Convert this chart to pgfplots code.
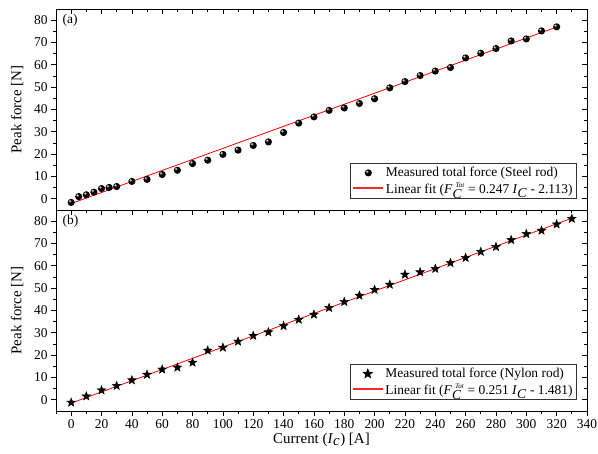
\documentclass[border=0pt]{standalone}
\usepackage{fontspec}
\setmainfont{Liberation Serif}
\usepackage{pgfplots}
\pgfplotsset{compat=1.18}
\pgfdeclareplotmark{fstar}{%
  \pgfpathmoveto{\pgfpointpolar{90}{\pgfplotmarksize}}%
  \pgfpathlineto{\pgfpointpolar{126}{0.42\pgfplotmarksize}}%
  \pgfpathlineto{\pgfpointpolar{162}{\pgfplotmarksize}}%
  \pgfpathlineto{\pgfpointpolar{198}{0.42\pgfplotmarksize}}%
  \pgfpathlineto{\pgfpointpolar{234}{\pgfplotmarksize}}%
  \pgfpathlineto{\pgfpointpolar{270}{0.42\pgfplotmarksize}}%
  \pgfpathlineto{\pgfpointpolar{306}{\pgfplotmarksize}}%
  \pgfpathlineto{\pgfpointpolar{342}{0.42\pgfplotmarksize}}%
  \pgfpathlineto{\pgfpointpolar{18}{\pgfplotmarksize}}%
  \pgfpathlineto{\pgfpointpolar{54}{0.42\pgfplotmarksize}}%
  \pgfpathclose
  \pgfusepathqfillstroke
}
\pgfdeclareplotmark{sball}{%
  \pgfpathcircle{\pgfpointorigin}{\pgfplotmarksize}%
  \pgfusepathqfill
  \begin{pgfscope}
  \pgfsetfillcolor{black!55}%
  \pgfpathcircle{\pgfpoint{-0.3\pgfplotmarksize}{0.3\pgfplotmarksize}}{0.42\pgfplotmarksize}%
  \pgfusepathqfill
  \pgfsetfillcolor{black!12}%
  \pgfpathcircle{\pgfpoint{-0.35\pgfplotmarksize}{0.36\pgfplotmarksize}}{0.2\pgfplotmarksize}%
  \pgfusepathqfill
  \end{pgfscope}
}
\pgfplotsset{
  frame/.style={
    scale only axis, width=531bp, height=201bp,
    xmin=-10, xmax=340, ymin=-5, ymax=85,
    xtick distance=20, ytick={0,10,...,80},
    minor x tick num=1, minor y tick num=1,
    major tick length=5bp, minor tick length=3bp,
    every tick/.style={black, line width=0.7bp},
    axis line style={black, line width=0.9bp},
    tick label style={font=\fontsize{13.5}{15}\selectfont},
    /pgf/number format/assume math mode=true,
  },
  outer/.style={frame, tick align=outside, xtick pos=bottom, ytick pos=left,
    ylabel={Peak force [N]},
    every axis y label/.style={at={(axis description cs:0,0.5)}, xshift=-39bp,
      rotate=90, anchor=center, font=\fontsize{15}{17}\selectfont},
    every axis x label/.style={at={(axis description cs:0.5,0)}, yshift=-29bp,
      anchor=center, font=\fontsize{15}{17}\selectfont}},
  inner/.style={frame, tick align=inside, xtick pos=top, ytick pos=right,
    xticklabels={}, yticklabels={}, axis line style={draw=none}},
  leg/.style={legend style={at={(1,0)}, anchor=south east, xshift=-10bp, yshift=11bp,
    draw=black!80, line width=0.8bp, fill=white, font=\fontsize{13.5}{16}\selectfont,
    inner sep=2bp, row sep=1bp},
    legend cell align=left},
  markleg/.style={legend image code/.code={\draw[##1] plot coordinates {(15bp,0bp)};}},
  lineleg/.style={legend image code/.code={\draw[red!85!white, line width=1.3bp] (0bp,1bp) -- (30bp,1bp);}},
}
\begin{document}
\begin{tikzpicture}
\path[use as bounding box] (-56bp,-43bp) rectangle (542bp,411bp);
% ---------- (a) steel rod ----------
\begin{axis}[outer, leg, at={(0,201bp)}, xticklabels={}]
\addplot[only marks, black, fill=black, mark=sball, mark size=3.6bp, markleg] coordinates {
(0,-1.6) (5,1.0) (10,1.8) (15,3.0) (20,4.6) (25,5.1) (30,5.5) (40,7.8) (50,8.7)
(60,10.9) (70,12.8) (80,15.8) (90,17.3) (100,19.9) (110,21.8) (120,23.9) (130,25.5)
(140,29.7) (150,33.9) (160,36.7) (170,39.6) (180,40.7) (190,42.7) (200,44.8)
(210,49.7) (220,52.5) (230,55.2) (240,57.2) (250,58.8) (260,63.1) (270,65.2)
(280,67.3) (290,70.7) (300,71.6) (310,75.2) (320,77.0)};
\addlegendentry{Measured total force (Steel rod)}
\addplot[red, line width=0.8bp, no marks, lineleg] coordinates {(0,-2.113) (320,76.927)};
\addlegendentry{Linear fit (\textit{F}$_{\textit{C}}^{\,\,\textit{\scriptsize Tot}}$ = 0.247 \textit{I}$_{\textit{C}}$ - 2.113)}
\node[anchor=north west, font=\fontsize{13.5}{15}\selectfont, inner sep=0pt] at (rel axis cs:0.012,0.975) {(a)};
\end{axis}
\begin{axis}[inner, at={(0,201bp)}]
\end{axis}
% ---------- (b) nylon rod ----------
\begin{axis}[outer, leg, at={(0,0)}, xlabel={Current (\textit{I}$_{\textit{c}}$) [A]}]
\addplot[only marks, mark=fstar, mark size=4.6bp, black, fill=black, markleg] coordinates {
(0,-1.2) (10,1.6) (20,4.3) (30,6.3) (40,8.8) (50,11.3) (60,13.6) (70,14.5) (80,16.7)
(90,22.1) (100,23.4) (110,26.1) (120,28.7) (130,30.3) (140,33.1) (150,35.9)
(160,38.2) (170,41.2) (180,43.9) (190,46.7) (200,49.3) (210,51.6) (220,56.1)
(230,57.2) (240,58.7) (250,61.3) (260,63.6) (270,66.3) (280,68.5) (290,71.6)
(300,74.3) (310,75.8) (320,78.6) (330,81.1)};
\addlegendentry{Measured total force (Nylon rod)}
\addplot[red, line width=0.8bp, no marks, lineleg] coordinates {(0,-1.481) (330,81.349)};
\addlegendentry{Linear fit (\textit{F}$_{\textit{C}}^{\,\,\textit{\scriptsize Tot}}$ = 0.251 \textit{I}$_{\textit{C}}$ - 1.481)}
\node[anchor=north west, font=\fontsize{13.5}{15}\selectfont, inner sep=0pt] at (rel axis cs:0.012,0.975) {(b)};
\end{axis}
\begin{axis}[inner, at={(0,0)}]
\end{axis}
\end{tikzpicture}
\end{document}
